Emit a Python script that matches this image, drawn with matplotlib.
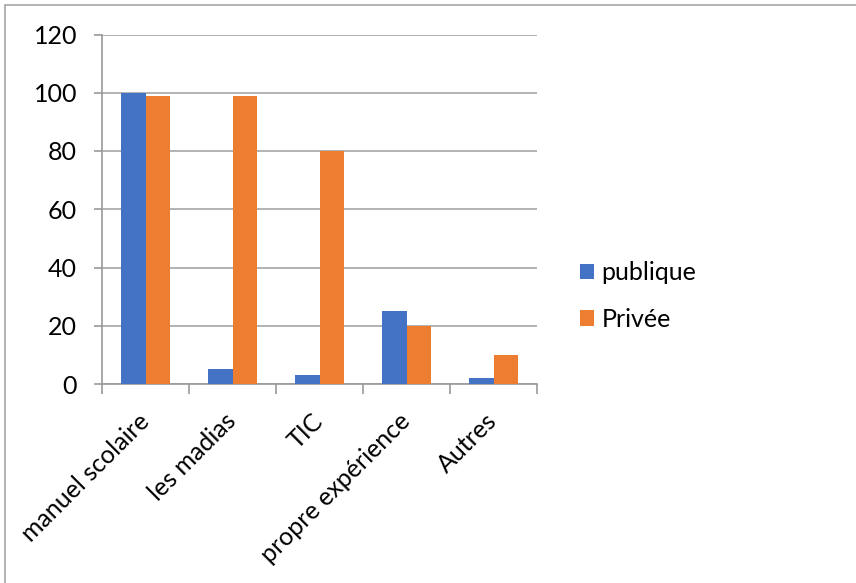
import numpy as np
import matplotlib.pyplot as plt
from matplotlib.patches import Rectangle

categories = ['manuel scolaire', 'les madias', 'TIC', 'propre expérience', 'Autres']
publique = [100, 5, 3, 25, 2]
privee = [99, 99, 80, 20, 10]
yticks = [0, 20, 40, 60, 80, 100, 120]

plt.rcParams['font.family'] = ['Lato', 'DejaVu Sans']

fig = plt.figure(figsize=(8.56, 5.83), dpi=100)
ax = fig.add_axes([102/856, 1 - 384/583, 435/856, 349.5/583])

x = np.arange(len(categories))
w = 0.282
ax.bar(x - w/2, publique, w, color='#4472C4', label='publique', zorder=3)
ax.bar(x + w/2, privee, w, color='#ED7D31', label='Privée', zorder=3)

ax.set_xlim(-0.5, len(categories) - 0.5)
ax.set_ylim(0, 120)
ax.set_yticks(yticks)
ax.tick_params(axis='y', labelsize=18, length=6, color='#999999', width=1.2, pad=12)
ax.yaxis.grid(True, color='#A6A6A6', linewidth=1.2, zorder=0)

ax.set_xticks(x)
ax.set_xticklabels(categories, rotation=45, ha='right', va='center',
                   rotation_mode='anchor', fontsize=18)
ax.tick_params(axis='x', length=0, pad=24)
ax.set_xticks(np.arange(-0.5, len(categories)), minor=True)
ax.tick_params(axis='x', which='minor', length=7, color='#999999', width=1.2)

for s in ['top', 'right']:
    ax.spines[s].set_visible(False)
for s in ['left', 'bottom']:
    ax.spines[s].set_color('#999999')
    ax.spines[s].set_linewidth(1.2)

fig.legend(loc='center left', bbox_to_anchor=(580/856, 1 - 296/583), frameon=False,
           fontsize=18, handlelength=0.56, handleheight=0.56, handletextpad=0.3,
           labelspacing=0.95, borderpad=0, borderaxespad=0)

# chart border (right and bottom fall outside the picture)
fig.patches.append(Rectangle((5/856, -0.1), 1.2, 1.1 - 5/583, transform=fig.transFigure,
                             fill=False, edgecolor='#A6A6A6', linewidth=1.2))

fig.savefig('out.png', dpi=100)
